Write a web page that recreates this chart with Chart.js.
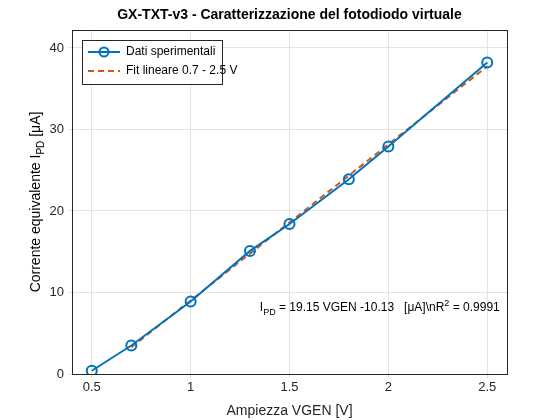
<!DOCTYPE html>
<html>
<head>
<meta charset="utf-8" />
<script src="https://cdn.jsdelivr.net/npm/chart.js"></script>
<style>
  body { margin: 0; background: #fff; }
  #wrap { width: 560px; height: 420px; }
</style>
</head>
<body>
<div id="wrap"><canvas id="c" width="560" height="420"></canvas></div>
<script>
  var vgen = [0.5, 0.7, 1.0, 1.3, 1.5, 1.8, 2.0, 2.5];
  var ipd = [0.4, 3.5, 8.9, 15.1, 18.4, 23.9, 27.9, 38.2];
  var fitX = [0.7, 2.5];
  var fitY = [3.275, 37.745];
  var xTicks = [0.5, 1, 1.5, 2, 2.5];
  var yTicks = [0, 10, 20, 30, 40];

  var blue = "#0072BD";
  var orange = "#D95319";
  var font = "Liberation Sans, Arial, sans-serif";

  let overlay = {
    id: "overlay",
    afterDraw: (chart) => {
      let ctx = chart.ctx;
      let a = chart.chartArea;
      ctx.save();
      // box
      ctx.strokeStyle = "#262626";
      ctx.lineWidth = 1;
      ctx.strokeRect(a.left + 0.5, a.top + 0.5, a.right - a.left, a.bottom - a.top);
      // title
      ctx.fillStyle = "#000";
      ctx.font = "bold 14px " + font;
      ctx.textAlign = "center";
      ctx.fillText("GX-TXT-v3 - Caratterizzazione del fotodiodo virtuale", (a.left + a.right) / 2, 19);
      // legend
      let lx = 82, ly = 40;
      ctx.fillStyle = "#fff";
      ctx.fillRect(lx, ly, 140, 44);
      ctx.strokeStyle = "#262626";
      ctx.strokeRect(lx + 0.5, ly + 0.5, 140, 44);
      ctx.lineWidth = 2;
      ctx.strokeStyle = blue;
      ctx.beginPath(); ctx.moveTo(lx + 6, ly + 12); ctx.lineTo(lx + 38, ly + 12); ctx.stroke();
      ctx.beginPath(); ctx.arc(lx + 22, ly + 12, 4.5, 0, Math.PI * 2); ctx.stroke();
      ctx.strokeStyle = orange;
      ctx.setLineDash([6, 4]);
      ctx.beginPath(); ctx.moveTo(lx + 6, ly + 31); ctx.lineTo(lx + 38, ly + 31); ctx.stroke();
      ctx.setLineDash([]);
      ctx.fillStyle = "#000";
      ctx.font = "12px " + font;
      ctx.textAlign = "left";
      ctx.textBaseline = "middle";
      ctx.fillText("Dati sperimentali", lx + 44, ly + 12);
      ctx.fillText("Fit lineare 0.7 - 2.5 V", lx + 44, ly + 31);
      // annotation
      let x = chart.scales.x.getPixelForValue(1.35);
      let y = chart.scales.y.getPixelForValue(7.7);
      ctx.textBaseline = "alphabetic";
      let parts = [["I", 12, 0], ["PD", 9, 4], [" = 19.15 VGEN -10.13   [\u03bcA]\\nR", 12, 0], ["2", 9, -5], [" = 0.9991", 12, 0]];
      parts.forEach((p) => {
        ctx.font = p[1] + "px " + font;
        ctx.fillText(p[0], x, y + p[2]);
        x += ctx.measureText(p[0]).width;
      });
      // y title with subscript
      ctx.translate(40, (a.top + a.bottom) / 2);
      ctx.rotate(-Math.PI / 2);
      let yp = [["Corrente equivalente I", 14, 0], ["PD", 10, 4], [" [\u03bcA]", 14, 0]];
      let tw = 0;
      yp.forEach((p) => { ctx.font = p[1] + "px " + font; tw += ctx.measureText(p[0]).width; });
      let cx = -tw / 2;
      yp.forEach((p) => {
        ctx.font = p[1] + "px " + font;
        ctx.fillText(p[0], cx, p[2]);
        cx += ctx.measureText(p[0]).width;
      });
      ctx.restore();
    },
  };

  new Chart(document.getElementById("c"), {
    type: "scatter",
    data: {
      datasets: [
        {
          label: "Dati sperimentali",
          data: vgen.map((v, i) => ({ x: v, y: ipd[i] })),
          showLine: true,
          borderColor: blue,
          borderWidth: 2,
          pointStyle: "circle",
          pointRadius: 5,
          pointBorderWidth: 2,
          pointBackgroundColor: "rgba(0,0,0,0)",
          pointBorderColor: blue,
        },
        {
          label: "Fit lineare 0.7 - 2.5 V",
          data: fitX.map((v, i) => ({ x: v, y: fitY[i] })),
          showLine: true,
          borderColor: orange,
          borderWidth: 2,
          borderDash: [6, 4],
          pointRadius: 0,
        },
      ],
    },
    options: {
      responsive: false,
      animation: false,
      layout: { padding: { top: 30, right: 53, left: 0, bottom: 0 } },
      plugins: { legend: { display: false }, tooltip: { enabled: false } },
      scales: {
        x: {
          type: "linear",
          min: 0.4,
          max: 2.6,
          afterBuildTicks: (s) => { s.ticks = xTicks.map((v) => ({ value: v })); },
          afterFit: (s) => { s.height = 46; },
          grid: { color: "#e3e3e3", tickLength: 4 },
          border: { display: false },
          ticks: { color: "#262626", font: { family: font, size: 13 }, padding: 2, callback: (v) => String(v) },
          title: { display: true, text: "Ampiezza VGEN [V]", color: "#262626", font: { family: font, size: 14 }, padding: 0 },
        },
        y: {
          min: 0,
          max: 42.2,
          afterBuildTicks: (s) => { s.ticks = yTicks.map((v) => ({ value: v })); },
          afterFit: (s) => { s.width = 72; },
          grid: { color: "#e3e3e3", tickLength: 4 },
          border: { display: false },
          ticks: { color: "#262626", font: { family: font, size: 13 }, padding: 4, callback: (v) => String(v) },
        },
      },
    },
    plugins: [overlay],
  });
</script>
</body>
</html>
